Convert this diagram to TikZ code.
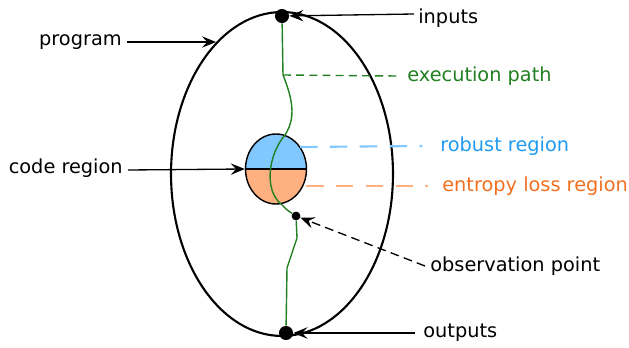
\documentclass[tikz,border=0pt]{standalone}
\usepackage{fontspec}
\setmainfont{DejaVu Sans}
\usepackage{tikz}
\usetikzlibrary{arrows.meta,shapes.geometric}

\definecolor{pathgreen}{RGB}{34,128,34}
\definecolor{robustfill}{RGB}{128,200,255}
\definecolor{robusttext}{RGB}{30,155,240}
\definecolor{lossfill}{RGB}{255,176,128}
\definecolor{losstext}{RGB}{240,112,32}

\tikzset{
    label/.style={anchor=west, inner sep=0pt, font=\fontsize{11}{13}\selectfont},
    pointer/.style={-{Stealth[length=8pt,width=6.5pt,inset=3pt]}, line width=0.75pt},
    bigdot/.style={circle, fill=black, inner sep=0pt, minimum size=8pt},
    smalldot/.style={circle, fill=black, inner sep=0pt, minimum size=5pt},
    longdash/.style={dash pattern=on 10pt off 7pt, line width=1.2pt}
}

\begin{document}
\begin{tikzpicture}[x=0.02cm, y=-0.02cm]
        \useasboundingbox (0,0) rectangle (629,348);

        % Program
        \draw[line width=1.2pt] (282,174) ellipse [x radius=2.22cm, y radius=3.24cm];

        % Code region (two halves)
        \node[ellipse, draw, line width=0.8pt, minimum width=1.22cm, minimum height=1.4cm, inner sep=0pt,
              path picture={
                \fill[robustfill] (path picture bounding box.north west) rectangle (path picture bounding box.east);
                \fill[lossfill] (path picture bounding box.west) rectangle (path picture bounding box.south east);
                \draw[line width=0.8pt] (path picture bounding box.west) -- (path picture bounding box.east);
              }] (cr) at (276,169) {};

        % Points on the path
        \node[bigdot] (in) at (282,16) {};
        \node[bigdot] (out) at (286,333) {};
        \node[smalldot] (obs) at (296,216) {};
        \coordinate (bend) at (283,75);

        % Execution path
        \draw[pathgreen, line width=0.8pt] (in) -- (bend)
            .. controls (293,100) and (296,118) .. (285,135)
            .. controls (268,155) and (264,190) .. (281,204)
            .. controls (287,210) .. (obs);
        \draw[pathgreen, line width=0.8pt] (obs) -- (297,238) -- (287,268) -- (out);

        % Labels
        \node[label] (inputs) at (418,18) {inputs};
        \node[label, anchor=east] (prog) at (122,42) {program};
        \node[label, pathgreen] (exec) at (407,76) {execution path};
        \node[label, robusttext] (robust) at (440,146) {robust region};
        \node[label, losstext] (loss) at (442,186) {entropy loss region};
        \node[label, anchor=east] (code) at (123,168) {code region};
        \node[label] (obspt) at (430,266) {observation point};
        \node[label] (outputs) at (423,333) {outputs};

        % Pointers
        \coordinate (progend) at (216,42);
        \coordinate (robstart) at (300,147);
        \coordinate (lossstart) at (306,186);
        \draw[pointer] (inputs.west) ++(-4,-4) -- (in);
        \draw[pointer] (prog.east) ++(5,0) -- (progend);
        \draw[pointer] (code.east) ++(5,2) -- (cr.west);
        \draw[pointer, dash pattern=on 5pt off 3pt] (obspt.west) ++(-5,0) -- (obs);
        \draw[pointer] (outputs.west) ++(-8,0) -- (out);

        % Region links
        \draw[pathgreen, dash pattern=on 4.5pt off 3pt, line width=0.8pt] (bend) -- ([xshift=-6]exec.west);
        \draw[robustfill, longdash] (robstart) -- ([xshift=-10]robust.west);
        \draw[lossfill, longdash] (lossstart) -- ([xshift=-8]loss.west);
\end{tikzpicture}
\end{document}
